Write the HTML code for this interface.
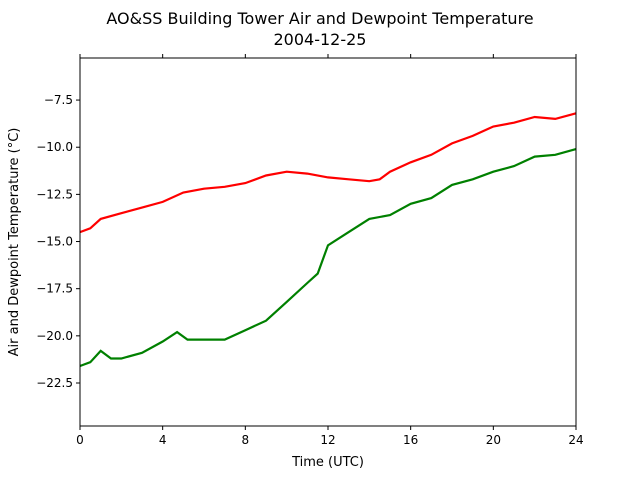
<!DOCTYPE html>
<html><head><meta charset="utf-8"><style>
body{margin:0;background:#fff;font-family:"Liberation Sans","DejaVu Sans",sans-serif;}
svg text{font-family:"DejaVu Sans","Liberation Sans",sans-serif;}
</style></head><body>
<svg id="chart" width="640" height="480" xmlns="http://www.w3.org/2000/svg">
<rect width="640" height="480" fill="#fff"/>
<text x="320" y="24" font-size="16" text-anchor="middle">AO&amp;SS Building Tower Air and Dewpoint Temperature</text>
<text x="320" y="45" font-size="16" text-anchor="middle">2004-12-25</text>
<g id="marks"></g>
<g id="axes"></g>
<rect x="80" y="58" width="496" height="368" fill="none" stroke="#000" stroke-width="1"/>
<text x="328" y="466" font-size="13" text-anchor="middle">Time (UTC)</text>
<text transform="translate(18,242) rotate(-90)" font-size="13" text-anchor="middle">Air and Dewpoint Temperature (°C)</text>
</svg>
<script>
const airHours=[0,0.5,1,2,3,4,5,6,7,8,9,10,11,12,13,14,14.5,15,16,17,18,19,20,21,22,23,24];
const airTemps=[-14.5,-14.3,-13.8,-13.5,-13.2,-12.9,-12.4,-12.2,-12.1,-11.9,-11.5,-11.3,-11.4,-11.6,-11.7,-11.8,-11.7,-11.3,-10.8,-10.4,-9.8,-9.4,-8.9,-8.7,-8.4,-8.5,-8.2];
const dewHours=[0,0.5,1,1.5,2,3,4,4.7,5.2,6,7,8,9,10,11,11.5,12,13,14,15,16,17,18,19,20,21,22,23,24];
const dewTemps=[-21.6,-21.4,-20.8,-21.2,-21.2,-20.9,-20.3,-19.8,-20.2,-20.2,-20.2,-19.7,-19.2,-18.2,-17.2,-16.7,-15.2,-14.5,-13.8,-13.6,-13.0,-12.7,-12.0,-11.7,-11.3,-11.0,-10.5,-10.4,-10.1];
const xTicks=[0,4,8,12,16,20,24];
const yTicks=[-7.5,-10.0,-12.5,-15.0,-17.5,-20.0,-22.5];
const X0=80,X1=576,Y0=58,Y1=426,xMin=0,xMax=24,yMax=-5.27,yMin=-24.78;
const xs=v=>X0+(v-xMin)/(xMax-xMin)*(X1-X0);
const ys=v=>Y0+(yMax-v)/(yMax-yMin)*(Y1-Y0);
const NS="http://www.w3.org/2000/svg";
const marks=document.getElementById('marks'),axes=document.getElementById('axes');
function line(h,t,c,name){
  const p=document.createElementNS(NS,'polyline');
  p.setAttribute('points',h.map((v,i)=>xs(v).toFixed(1)+','+ys(t[i]).toFixed(1)).join(' '));
  p.setAttribute('fill','none');p.setAttribute('stroke',c);p.setAttribute('stroke-width','2.2');
  
  
  marks.appendChild(p);
}
line(airHours,airTemps,'#ff0000','air-temperature-line');
line(dewHours,dewTemps,'#008000','dewpoint-temperature-line');
function el(tag,attrs){const e=document.createElementNS(NS,tag);for(const k in attrs)e.setAttribute(k,attrs[k]);return e;}
xTicks.forEach(v=>{
  const x=xs(v);
  const t=el('line',{x1:x,x2:x,y1:Y1,y2:Y1+4,stroke:'#000'});
  
  
  axes.appendChild(t);
  const t2=el('line',{x1:x,x2:x,y1:Y0,y2:Y0-4,stroke:'#000'});
  
  
  axes.appendChild(t2);
  const l=el('text',{x:x,y:Y1+18,'font-size':12,'text-anchor':'middle'});
  l.textContent=v;
  
  
  axes.appendChild(l);
});
yTicks.forEach(v=>{
  const y=ys(v);
  const t=el('line',{x1:X0-4,x2:X0,y1:y,y2:y,stroke:'#000'});
  
  
  axes.appendChild(t);
  const l=el('text',{x:X0-7,y:y+4,'font-size':12,'text-anchor':'end'});
  l.textContent=(v<0?'\u2212':'')+Math.abs(v).toFixed(1);
  
  
  axes.appendChild(l);
});
</script>
</body></html>
